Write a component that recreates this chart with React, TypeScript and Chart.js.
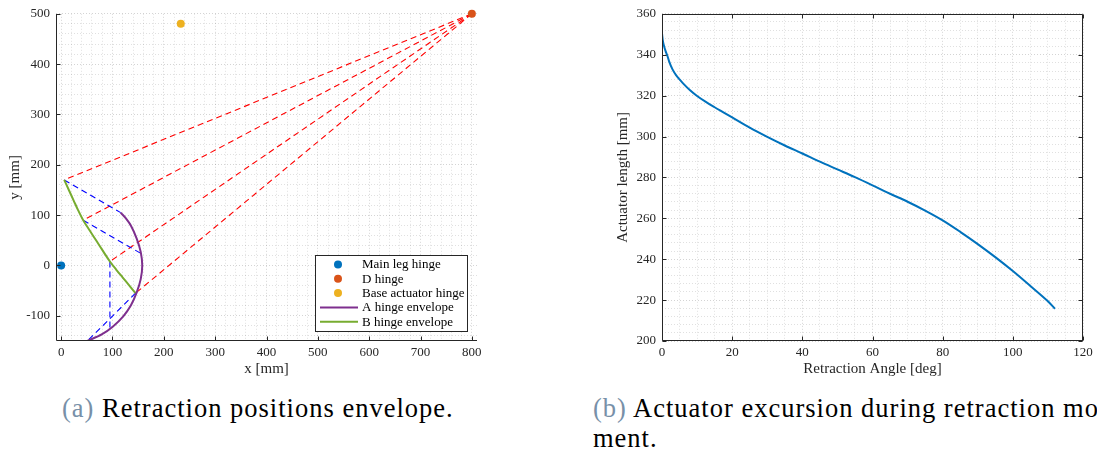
import React, { useEffect, useRef } from "react";
import { Chart, registerables } from "chart.js";
Chart.register(...registerables);

// ---------- Left chart (a): retraction positions envelope ----------
const mainHingeX = [0];
const mainHingeY = [0];
const dHingeX = [800];
const dHingeY = [500];
const baseHingeX = [233];
const baseHingeY = [480];
const aEnvelopeX = [116, 125, 136, 147, 155, 158, 155, 147, 136, 121, 101, 79, 51];
const aEnvelopeY = [105, 95, 79, 54, 27, 0, -27, -54, -79, -101, -121, -137, -150];
const bEnvelopeX = [6, 15, 24, 33, 43, 56, 69, 82, 95, 107.5, 120, 132.5, 145];
const bEnvelopeY = [170, 150, 130, 110, 90, 69, 48.5, 28, 8, -8.5, -24, -39.5, -55];
const bPositionsX = [6, 43, 95, 145];
const bPositionsY = [170, 90, 8, -55];
const aPositionsX = [116, 157, 95, 51];
const aPositionsY = [105, 23, -126, -150];
const leftXTicks = [0, 100, 200, 300, 400, 500, 600, 700, 800];
const leftYTicks = [-100, 0, 100, 200, 300, 400, 500];

// ---------- Right chart (b): actuator excursion ----------
const retractionAngle = [0, 0.25, 0.5, 1, 1.5, 2, 3, 4, 5, 6, 8, 10, 12.5, 15, 17.5, 20, 25, 30, 35, 40, 45, 50, 55, 60, 65, 70, 75, 80, 85, 90, 95, 100, 105, 110, 112];
const actuatorLength = [350.4, 346.7, 344.8, 341.9, 339.6, 336.9, 332.8, 330.0, 327.9, 326.0, 322.6, 319.8, 316.9, 314.3, 311.8, 309.3, 304.3, 299.8, 295.6, 291.7, 287.7, 283.9, 280.1, 276.1, 272.0, 268.1, 263.8, 259.0, 253.4, 247.4, 241.0, 234.2, 226.9, 219.4, 215.8];
const rightXTicks = [0, 20, 40, 60, 80, 100, 120];
const rightYTicks = [200, 220, 240, 260, 280, 300, 320, 340, 360];

const FONT = "'Liberation Serif', 'Times New Roman', serif";
const AXIS_COLOR = "#262626";

function zip(xs: number[], ys: number[]) {
  return xs.map((x, i) => ({ x, y: ys[i] }));
}

function minorTicks(min: number, max: number, step: number) {
  const out: { value: number }[] = [];
  for (let v = Math.ceil(min / step) * step; v <= max + 1e-9; v += step) out.push({ value: Math.round(v * 1000) / 1000 });
  return out;
}

const matlabAxesPlugin = {
  id: "matlabAxes",
  afterDatasetsDraw(chart: any, _a: any, opts: any) {
    const { ctx, chartArea, scales } = chart;
    const { left, right, top, bottom } = chartArea;
    const L = Math.round(left) + 0.5;
    const R = Math.round(right) - 0.5;
    const T = Math.round(top) + 0.5;
    const B = Math.round(bottom) - 0.5;
    const tl = 4;
    ctx.save();
    ctx.strokeStyle = AXIS_COLOR;
    ctx.lineWidth = 1;
    ctx.setLineDash([]);
    ctx.beginPath();
    ctx.moveTo(L, T - 0.5);
    ctx.lineTo(L, B);
    ctx.lineTo(R + 0.5, B);
    if (opts.box) {
      ctx.moveTo(L, T);
      ctx.lineTo(R, T);
      ctx.lineTo(R, B);
    }
    for (const v of opts.xMajor) {
      const p = Math.round(scales.x.getPixelForValue(v)) + 0.5;
      ctx.moveTo(p, B);
      ctx.lineTo(p, B - tl);
      if (opts.box) {
        ctx.moveTo(p, T);
        ctx.lineTo(p, T + tl);
      }
    }
    for (const v of opts.yMajor) {
      const p = Math.round(scales.y.getPixelForValue(v)) + 0.5;
      ctx.moveTo(L, p);
      ctx.lineTo(L + tl, p);
      if (opts.box) {
        ctx.moveTo(R, p);
        ctx.lineTo(R - tl, p);
      }
    }
    ctx.stroke();
    ctx.restore();
  },
};

const boxLegendPlugin = {
  id: "boxLegend",
  afterDraw(chart: any, _a: any, opts: any) {
    if (!opts || !opts.show) return;
    const { ctx, chartArea } = chart;
    const w = 152;
    const h = 76;
    const x0 = Math.round(chartArea.right - 10 - w);
    const y0 = Math.round(chartArea.bottom - 10 - h);
    const items = chart.data.datasets.filter((d: any) => d.inLegend);
    ctx.save();
    ctx.fillStyle = "#ffffff";
    ctx.fillRect(x0, y0, w, h);
    ctx.strokeStyle = AXIS_COLOR;
    ctx.lineWidth = 1;
    ctx.setLineDash([]);
    ctx.strokeRect(x0 + 0.5, y0 + 0.5, w, h);
    ctx.font = `13px ${FONT}`;
    ctx.textBaseline = "middle";
    items.forEach((d: any, i: number) => {
      const cy = y0 + 9.5 + i * 14.3;
      if (d.legendKind === "marker") {
        ctx.beginPath();
        ctx.arc(x0 + 23, cy, 4, 0, Math.PI * 2);
        ctx.fillStyle = d.backgroundColor;
        ctx.fill();
      } else {
        ctx.beginPath();
        ctx.moveTo(x0 + 5, cy);
        ctx.lineTo(x0 + 43, cy);
        ctx.strokeStyle = d.borderColor;
        ctx.lineWidth = 2;
        ctx.stroke();
      }
      ctx.fillStyle = "#000";
      ctx.fillText(d.label, x0 + 47, cy + 0.5);
    });
    ctx.restore();
  },
};

function gridOpts(majors: number[]) {
  return {
    color: (c: any) => (c.tick && majors.includes(c.tick.value) ? "rgba(0,0,0,0.17)" : "rgba(0,0,0,0.12)"),
    lineWidth: 1,
    drawTicks: false,
  };
}

function LeftChart() {
  const ref = useRef<HTMLCanvasElement | null>(null);
  useEffect(() => {
    if (!ref.current) return;
    const redLines = bPositionsX.map((bx, i) => ({
      type: "line",
      label: `actuator ${i + 1}`,
      data: [{ x: dHingeX[0], y: dHingeY[0] }, { x: bx, y: bPositionsY[i] }],
      borderColor: "#ff0000",
      borderWidth: 1.1,
      borderDash: [6, 4],
      pointRadius: 0,
      showLine: true,
      fill: false,
    }));
    const blueLines = bPositionsX.map((bx, i) => ({
      type: "line",
      label: `link ${i + 1}`,
      data: [{ x: bx, y: bPositionsY[i] }, { x: aPositionsX[i], y: aPositionsY[i] }],
      borderColor: "#0000ff",
      borderWidth: 1.1,
      borderDash: [6, 4],
      pointRadius: 0,
      showLine: true,
      fill: false,
    }));
    const marker = (label: string, xs: number[], ys: number[], color: string) => ({
      type: "scatter",
      label,
      data: zip(xs, ys),
      backgroundColor: color,
      borderColor: color,
      pointRadius: 4,
      pointBorderWidth: 0,
      clip: false,
      inLegend: true,
      legendKind: "marker",
    });
    const chart = new Chart(ref.current, {
      type: "scatter",
      data: {
        datasets: [
          marker("Main leg hinge", mainHingeX, mainHingeY, "#0072BD"),
          marker("D hinge", dHingeX, dHingeY, "#D95319"),
          marker("Base actuator hinge", baseHingeX, baseHingeY, "#EDB120"),
          {
            type: "line",
            label: "A hinge envelope",
            data: zip(aEnvelopeX, aEnvelopeY),
            borderColor: "#7E2F8E",
            borderWidth: 2,
            pointRadius: 0,
            showLine: true,
            tension: 0.3,
            fill: false,
            inLegend: true,
            legendKind: "line",
          },
          {
            type: "line",
            label: "B hinge envelope",
            data: zip(bEnvelopeX, bEnvelopeY),
            borderColor: "#77AC30",
            borderWidth: 2,
            pointRadius: 0,
            showLine: true,
            tension: 0.4,
            fill: false,
            inLegend: true,
            legendKind: "line",
          },
          ...blueLines,
          ...redLines,
        ] as any,
      },
      options: {
        animation: false,
        responsive: false,
        events: [],
        layout: { padding: { left: 4, top: 8, right: 13, bottom: 0 } },
        plugins: {
          legend: { display: false },
          tooltip: { enabled: false },
          matlabAxes: { box: false, xMajor: leftXTicks, yMajor: leftYTicks },
          boxLegend: { show: true },
        } as any,
        scales: {
          x: {
            type: "linear",
            min: -10,
            max: 810,
            afterBuildTicks: (s: any) => {
              s.ticks = minorTicks(-10, 810, 20);
            },
            afterFit: (s: any) => {
              s.height = 39;
            },
            grid: gridOpts(leftXTicks),
            border: { display: false, dash: [1, 2] },
            ticks: {
              autoSkip: false,
              maxRotation: 0,
              padding: 4,
              color: AXIS_COLOR,
              font: { family: FONT, size: 13 },
              callback: (v: any) => (leftXTicks.includes(Number(v)) ? String(v) : ""),
            },
            title: { display: true, text: "x [mm]", color: AXIS_COLOR, font: { family: FONT, size: 15 }, padding: { top: 0, bottom: 2 } },
          },
          y: {
            type: "linear",
            min: -150,
            max: 500,
            afterBuildTicks: (s: any) => {
              s.ticks = minorTicks(-150, 500, 20);
            },
            afterFit: (s: any) => {
              s.width = 52;
            },
            grid: gridOpts(leftYTicks),
            border: { display: false, dash: [1, 2] },
            ticks: {
              autoSkip: false,
              padding: 6,
              color: AXIS_COLOR,
              font: { family: FONT, size: 13 },
              callback: (v: any) => (leftYTicks.includes(Number(v)) ? String(v) : ""),
            },
            title: { display: true, text: "y [mm]", color: AXIS_COLOR, font: { family: FONT, size: 15 }, padding: { top: 2, bottom: 0 } },
          },
        },
      } as any,
      plugins: [matlabAxesPlugin, boxLegendPlugin],
    });
    return () => chart.destroy();
  }, []);
  return <canvas ref={ref} width={490} height={380} style={{ position: "absolute", left: 0, top: 0, width: 490, height: 380 }} />;
}

function RightChart() {
  const ref = useRef<HTMLCanvasElement | null>(null);
  useEffect(() => {
    if (!ref.current) return;
    const chart = new Chart(ref.current, {
      type: "scatter",
      data: {
        datasets: [
          {
            label: "Actuator length",
            data: zip(retractionAngle, actuatorLength),
            borderColor: "#0072BD",
            backgroundColor: "#0072BD",
            borderWidth: 2,
            pointRadius: 0,
            showLine: true,
            cubicInterpolationMode: "monotone",
            fill: false,
          },
        ],
      },
      options: {
        animation: false,
        responsive: false,
        events: [],
        layout: { padding: { left: 22, top: 8, right: 14, bottom: 0 } },
        plugins: {
          legend: { display: false },
          tooltip: { enabled: false },
          matlabAxes: { box: true, xMajor: rightXTicks, yMajor: rightYTicks },
        } as any,
        scales: {
          x: {
            type: "linear",
            min: 0,
            max: 120,
            afterBuildTicks: (s: any) => {
              s.ticks = minorTicks(0, 120, 5);
            },
            afterFit: (s: any) => {
              s.height = 39;
            },
            grid: gridOpts(rightXTicks),
            border: { display: false, dash: [1, 2] },
            ticks: {
              autoSkip: false,
              maxRotation: 0,
              padding: 4,
              color: AXIS_COLOR,
              font: { family: FONT, size: 13 },
              callback: (v: any) => (rightXTicks.includes(Number(v)) ? String(v) : ""),
            },
            title: { display: true, text: "Retraction Angle [deg]", color: AXIS_COLOR, font: { family: FONT, size: 15 }, padding: { top: 0, bottom: 2 } },
          },
          y: {
            type: "linear",
            min: 200,
            max: 360,
            afterBuildTicks: (s: any) => {
              s.ticks = minorTicks(200, 360, 4);
            },
            afterFit: (s: any) => {
              s.width = 50;
            },
            grid: gridOpts(rightYTicks),
            border: { display: false, dash: [1, 2] },
            ticks: {
              autoSkip: false,
              padding: 6,
              color: AXIS_COLOR,
              font: { family: FONT, size: 13 },
              callback: (v: any) => (rightYTicks.includes(Number(v)) ? String(v) : ""),
            },
            title: { display: true, text: "Actuator length [mm]", color: AXIS_COLOR, font: { family: FONT, size: 15 }, padding: { top: 2, bottom: 0 } },
          },
        },
      } as any,
      plugins: [matlabAxesPlugin],
    });
    return () => chart.destroy();
  }, []);
  return <canvas ref={ref} width={507} height={380} style={{ position: "absolute", left: 590, top: 0, width: 507, height: 380 }} />;
}

const captionStyle: React.CSSProperties = {
  position: "absolute",
  fontFamily: FONT,
  fontSize: 26.5,
  letterSpacing: "1px",
  lineHeight: "30px",
  color: "#000",
  whiteSpace: "nowrap",
};
const labelColor = "#7890a8";

export default function App() {
  return (
    <div style={{ position: "fixed", left: 0, top: 0, width: 1097, height: 462, overflow: "hidden", background: "#fff" }}>
      <LeftChart />
      <RightChart />
      <div style={{ ...captionStyle, left: 62, top: 393 }}>
        <span style={{ color: labelColor }}>(a)</span> Retraction positions envelope.
      </div>
      <div style={{ ...captionStyle, left: 593, top: 393 }}>
        <span style={{ color: labelColor }}>(b)</span> Actuator excursion during retraction mo-
      </div>
      <div style={{ ...captionStyle, left: 593, top: 423 }}>ment.</div>
    </div>
  );
}
